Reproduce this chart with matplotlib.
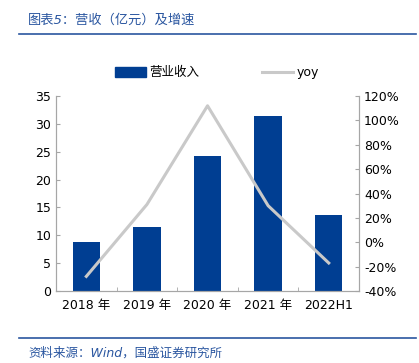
import matplotlib
matplotlib.use("Agg")
import matplotlib.pyplot as plt
import numpy as np
from matplotlib.lines import Line2D
from matplotlib.patches import Patch

plt.rcParams["font.family"] = ["DejaVu Sans", "Noto Sans CJK SC"]

categories = ["2018 年", "2019 年", "2020 年", "2021 年", "2022H1"]
revenue = [8.8, 11.5, 24.2, 31.5, 13.7]
yoy = [-28, 31, 112, 30, -17]

bar_color = "#003E92"
line_color = "#C9C9C9"
title_color = "#2A56A0"
spine_color = "#A6A6A6"

fig = plt.figure(figsize=(4.19, 3.63), dpi=100)
ax = fig.add_axes([0.1337, 0.1983, 0.7232, 0.5372])
x = np.arange(len(categories))

ax.bar(x, revenue, width=0.45, color=bar_color, zorder=2)
ax.set_xlim(-0.5, len(categories) - 0.5)
ax.set_ylim(0, 35)
ax.set_yticks(range(0, 36, 5))
ax.set_xticks(x)
ax.set_xticklabels(categories)
ax.set_xticks(np.arange(-0.5, len(categories), 1), minor=True)
ax.tick_params(axis="x", which="major", length=0, labelsize=9, pad=6)
ax.tick_params(axis="x", which="minor", direction="in", length=3, color=spine_color)
ax.tick_params(axis="y", direction="in", length=3, color=spine_color, labelsize=9)

ax2 = ax.twinx()
ax2.plot(x, yoy, color=line_color, linewidth=2.2, zorder=3)
ax2.set_ylim(-40, 120)
ax2.set_yticks(range(-40, 121, 20))
ax2.set_yticklabels([f"{v}%" for v in range(-40, 121, 20)])
ax2.tick_params(axis="y", direction="in", length=3, color=spine_color, labelsize=9)

for a in (ax, ax2):
    a.spines["top"].set_visible(False)
    for s in ("left", "right", "bottom"):
        a.spines[s].set_color(spine_color)

handles = [Patch(color=bar_color), Line2D([], [], color=line_color, linewidth=2.2)]
fig.legend(handles, ["营业收入", "yoy"], loc="center", bbox_to_anchor=(0.518, 0.8),
           ncol=2, frameon=False, fontsize=9, handlelength=2.5, handleheight=0.8,
           columnspacing=5, handletextpad=0.3)

fig.text(0.067, 0.945, "图表5：营收（亿元）及增速", fontsize=9.5, color=title_color,
         va="center", style="italic")
fig.add_artist(Line2D([0.045, 0.993], [0.905, 0.905], color=title_color, linewidth=1.2))
fig.add_artist(Line2D([0.045, 0.993], [0.069, 0.069], color=title_color, linewidth=1.2))
fig.text(0.067, 0.028, "资料来源：Wind，国盛证券研究所", fontsize=9, color=title_color,
         va="center", style="italic")

fig.savefig("out.png", dpi=100)
